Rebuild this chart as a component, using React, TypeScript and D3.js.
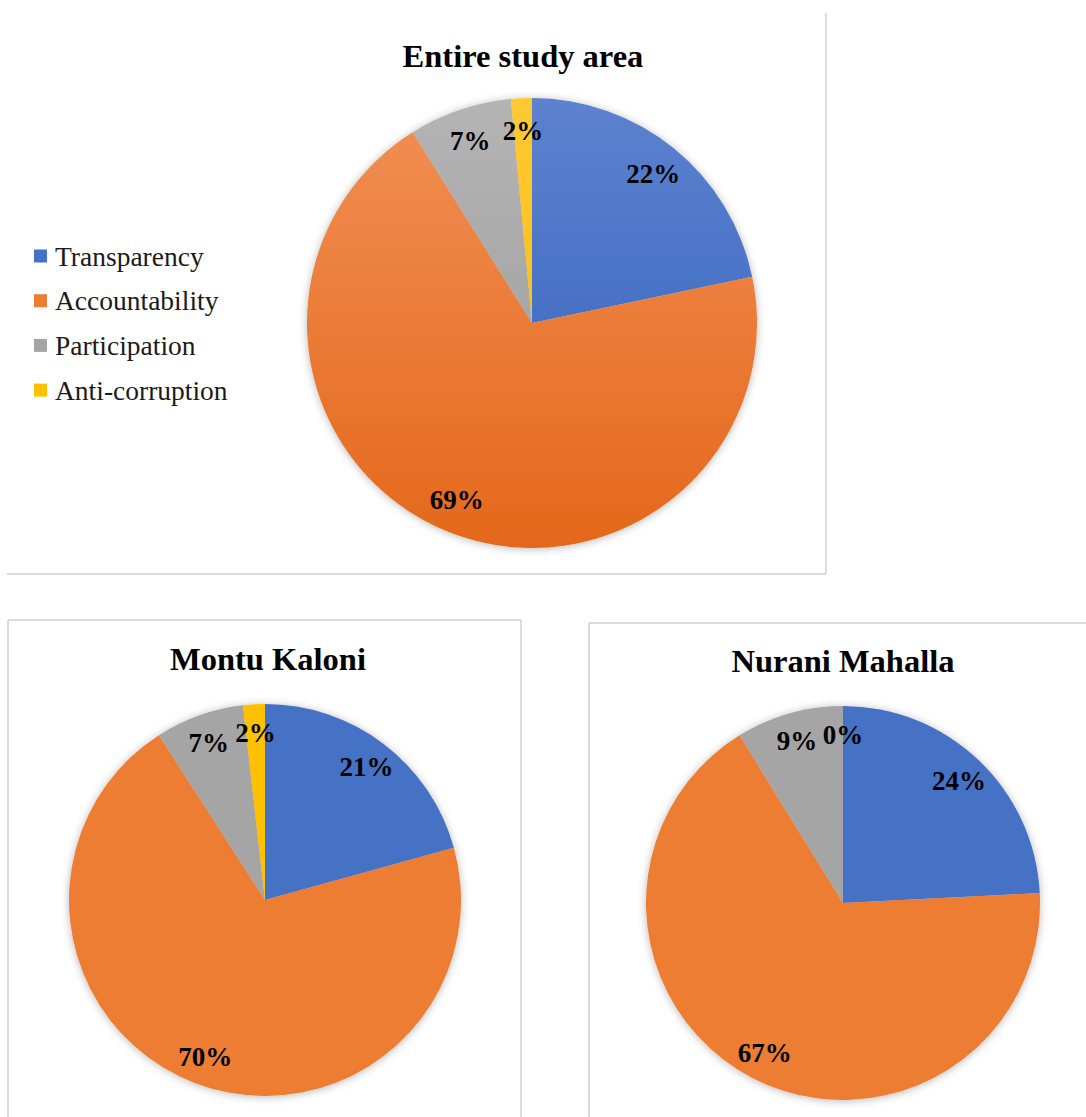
import React, { useRef, useEffect } from "react";
import * as d3 from "d3";

// Shares (percent)
const categories = ["Transparency", "Accountability", "Participation", "Anti-corruption"];
const entireValues = [21.7, 69.4, 7.4, 1.5];
const montuValues = [20.7, 70.2, 7.3, 1.8];
const nuraniValues = [24.2, 67.0, 8.8, 0];

const colors = ["#4472C4", "#ED7D31", "#A5A5A5", "#FFC000"];
// lighter top / darker bottom for the gradient pie
const gradTop = ["#5d82ce", "#f28f55", "#b4b4b4", "#ffc933"];
const gradBottom = ["#2f5fbd", "#e4681b", "#999999", "#f5b800"];

const FONT = "'Liberation Serif', 'Times New Roman', serif";

const App = () => {
  const svgRef = useRef(null);

  useEffect(() => {
    const svg = d3.select(svgRef.current);
    svg.selectAll("*").remove();

    const defs = svg.append("defs");
    const shadow = defs
      .append("filter")
      .attr("id", "pieShadow")
      .attr("x", "-20%")
      .attr("y", "-20%")
      .attr("width", "140%")
      .attr("height", "140%");
    shadow
      .append("feDropShadow")
      .attr("dx", 0)
      .attr("dy", 1)
      .attr("stdDeviation", 4)
      .attr("flood-color", "#000")
      .attr("flood-opacity", 0.28);

    // panel borders
    const border = "#cfcfcf";
    const lines = [
      [826, 13, 826, 574],
      [7, 574, 826, 574],
      [8, 620, 8, 1117],
      [8, 620, 521, 620],
      [521, 620, 521, 1117],
      [589, 623, 589, 1117],
      [589, 623, 1086, 623],
    ];
    svg
      .selectAll("line.border")
      .data(lines)
      .join("line")
      .attr("class", "border")
      .attr("x1", (d) => d[0])
      .attr("y1", (d) => d[1])
      .attr("x2", (d) => d[2])
      .attr("y2", (d) => d[3])
      .attr("stroke", border)
      .attr("stroke-width", 1.5);

    const pie = d3
      .pie()
      .sort(null)
      .value((d) => d);

    const drawPie = (id, values, cx, cy, r, title, titleX, titleY, gradient) => {
      const g = svg.append("g").attr("transform", `translate(${cx},${cy})`);
      const arcs = pie(values);
      const arc = d3.arc().innerRadius(0).outerRadius(r);
      const labelArc = d3.arc().innerRadius(r * 0.855).outerRadius(r * 0.855);

      if (gradient) {
        categories.forEach((c, i) => {
          const lg = defs
            .append("linearGradient")
            .attr("id", `${id}-g${i}`)
            .attr("gradientUnits", "userSpaceOnUse")
            .attr("x1", 0)
            .attr("y1", -r)
            .attr("x2", 0)
            .attr("y2", r);
          lg.append("stop").attr("offset", "0%").attr("stop-color", gradTop[i]);
          lg.append("stop").attr("offset", "100%").attr("stop-color", gradBottom[i]);
        });
      }

      const slices = g.append("g").attr("filter", "url(#pieShadow)");
      slices
        .selectAll("path")
        .data(arcs)
        .join("path")
        .attr("d", arc)
        .attr("fill", (d, i) => (gradient ? `url(#${id}-g${i})` : colors[i]));

      g.selectAll("text.pct")
        .data(arcs)
        .join("text")
        .attr("class", "pct")
        .attr("transform", (d) => `translate(${labelArc.centroid(d)})`)
        .attr("text-anchor", "middle")
        .attr("dy", "0.35em")
        .attr("font-family", FONT)
        .attr("font-weight", "bold")
        .attr("font-size", 27)
        .attr("fill", "#000")
        .text((d) => `${Math.round(d.data)}%`);

      svg
        .append("text")
        .attr("x", titleX)
        .attr("y", titleY)
        .attr("text-anchor", "middle")
        .attr("font-family", FONT)
        .attr("font-weight", "bold")
        .attr("font-size", 32.5)
        .attr("fill", "#000")
        .text(title);
    };

    drawPie("entire", entireValues, 532, 323, 225, "Entire study area", 523, 67, true);
    drawPie("montu", montuValues, 265, 900, 196, "Montu Kaloni", 268, 670, false);
    drawPie("nurani", nuraniValues, 843, 903, 197, "Nurani Mahalla", 843, 672, false);

    // legend
    const legend = svg
      .append("g")
      .selectAll("g")
      .data(categories)
      .join("g")
      .attr("transform", (d, i) => `translate(34, ${256 + i * 44.7})`);
    legend
      .append("rect")
      .attr("x", 0)
      .attr("y", -6.5)
      .attr("width", 13)
      .attr("height", 13)
      .attr("fill", (d, i) => colors[i]);
    legend
      .append("text")
      .attr("x", 21)
      .attr("dy", "0.35em")
      .attr("font-family", FONT)
      .attr("font-size", 27.5)
      .attr("fill", "#1a1a1a")
      .text((d) => d);
  }, []);

  return (
    <div style={{ position: "absolute", left: 0, top: 0 }}>
      <svg ref={svgRef} width={1086} height={1117} style={{ display: "block", background: "#fff" }} />
    </div>
  );
};

export default App;
